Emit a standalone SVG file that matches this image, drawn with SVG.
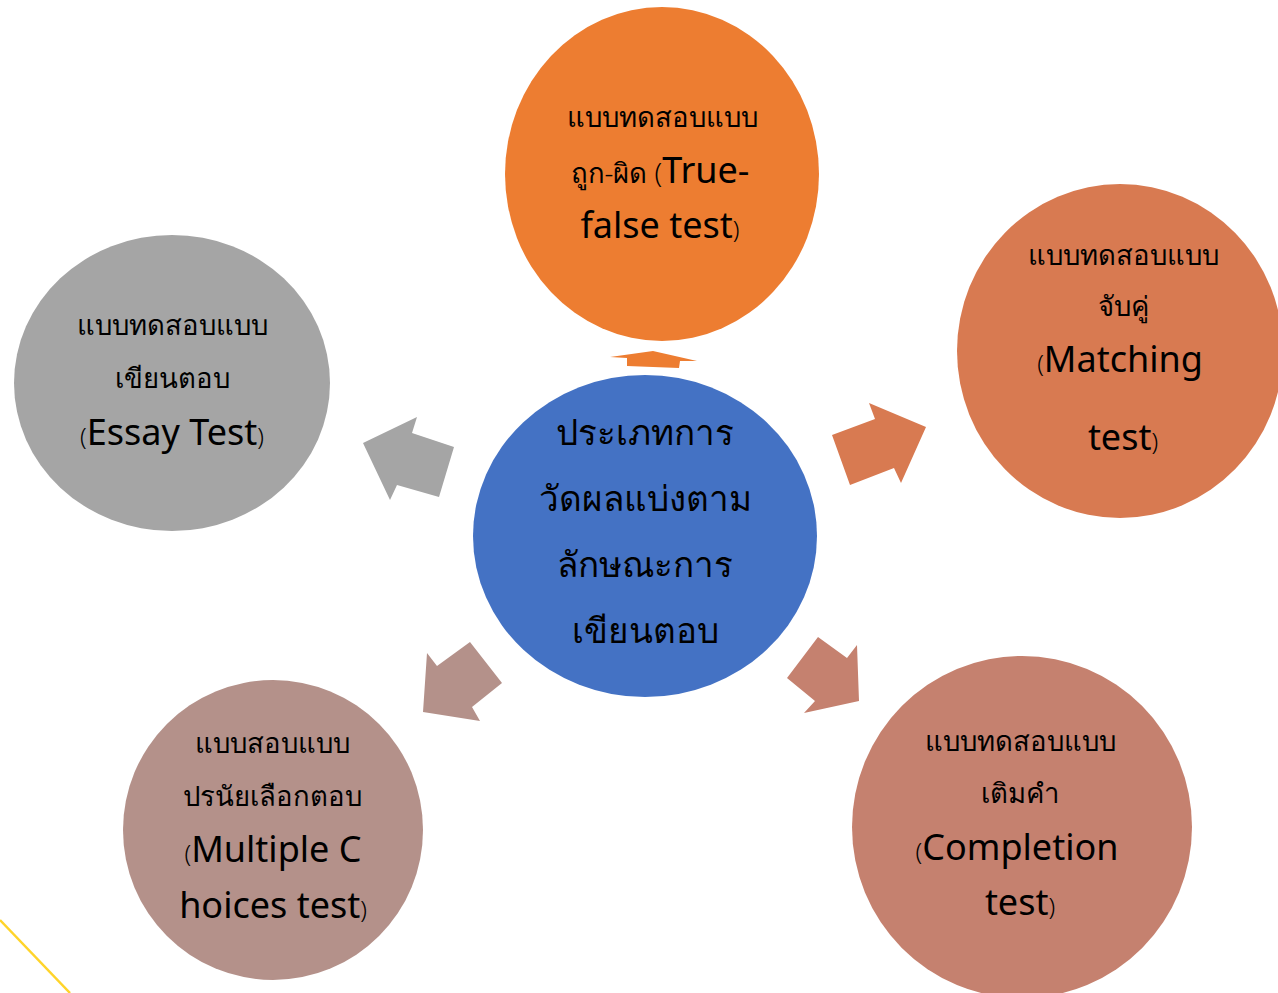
<svg xmlns="http://www.w3.org/2000/svg" width="1278" height="993" viewBox="0 0 1278 993">
<style>
text{font-family:"Noto Sans","DejaVu Sans",sans-serif;fill:#000;text-anchor:middle}
.th{font-size:27.5px;font-weight:300}
.en{font-size:36px}
.sm{font-size:24px;font-weight:300}
.c{font-size:35px;font-weight:300}
</style>
<rect width="1278" height="993" fill="#fff"/>
<line x1="0" y1="920" x2="70" y2="993" stroke="#FFD42A" stroke-width="2.5"/>
<g id="connectors">
<polygon points="627,366 627,358 610,357 653,351 697,361 680,361 679,368" fill="#ED7D31"/>
<polygon points="363,443 417,417 412,433 454,447 439,497 397,485 390,500" fill="#A5A5A5"/>
<polygon points="832,435 875,419 869,403 926,427 901,483 894,468 850,485" fill="#D87A51"/>
<polygon points="423,712 427,653 437,666 470,642 502,683 472,707 480,721" fill="#B4918A"/>
<polygon points="787,678 818,637 847,658 857,645 859,701 804,713 815,701" fill="#C5816F"/>
</g>
<g id="n-center">
<ellipse cx="645" cy="536" rx="172" ry="161" fill="#4472C4"/>
<text class="c" x="645" y="445">ประเภทการ</text>
<text class="c" x="645" y="511">วัดผลแบ่งตาม</text>
<text class="c" x="645" y="577">ลักษณะการ</text>
<text class="c" x="645" y="643">เขียนตอบ</text>
</g>
<g id="n-truefalse">
<ellipse cx="662" cy="174" rx="157" ry="167" fill="#ED7D31"/>
<text class="th" x="662" y="127">แบบทดสอบแบบ</text>
<text x="660" y="183"><tspan class="th">ถูก-ผิด (</tspan><tspan class="en">True-</tspan></text>
<text x="660" y="238"><tspan class="en">false test</tspan><tspan class="sm">)</tspan></text>
</g>
<g id="n-matching">
<ellipse cx="1120" cy="351" rx="163" ry="167" fill="#D87A51"/>
<text class="th" x="1123" y="265">แบบทดสอบแบบ</text>
<text class="th" x="1123" y="316">จับคู่</text>
<text x="1120" y="372"><tspan class="sm">(</tspan><tspan class="en">Matching</tspan></text>
<text x="1123" y="450"><tspan class="en">test</tspan><tspan class="sm">)</tspan></text>
</g>
<g id="n-essay">
<ellipse cx="172" cy="383" rx="158" ry="148" fill="#A5A5A5"/>
<text class="th" x="172" y="335">แบบทดสอบแบบ</text>
<text class="th" x="172" y="388">เขียนตอบ</text>
<text x="172" y="445"><tspan class="sm">(</tspan><tspan class="en">Essay Test</tspan><tspan class="sm">)</tspan></text>
</g>
<g id="n-multiple">
<ellipse cx="273" cy="830" rx="150" ry="150" fill="#B4918A"/>
<text class="th" x="272" y="753">แบบสอบแบบ</text>
<text class="th" x="272" y="806">ปรนัยเลือกตอบ</text>
<text x="273" y="862"><tspan class="sm">(</tspan><tspan class="en">Multiple C</tspan></text>
<text x="273" y="918"><tspan class="en">hoices test</tspan><tspan class="sm">)</tspan></text>
</g>
<g id="n-completion">
<ellipse cx="1022" cy="827" rx="170" ry="171" fill="#C5816F"/>
<text class="th" x="1020" y="751">แบบทดสอบแบบ</text>
<text class="th" x="1020" y="803">เติมคำ</text>
<text x="1017" y="860"><tspan class="sm">(</tspan><tspan class="en">Completion</tspan></text>
<text x="1020" y="915"><tspan class="en">test</tspan><tspan class="sm">)</tspan></text>
</g>
</svg>
